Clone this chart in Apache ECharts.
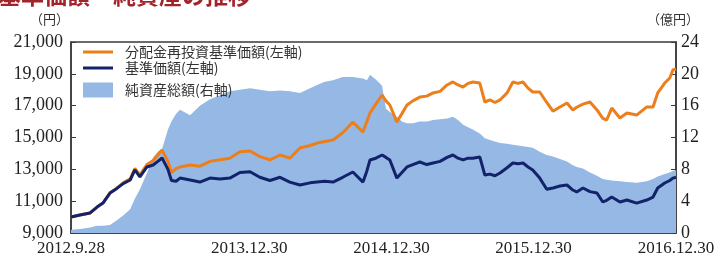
<!DOCTYPE html>
<html><head><meta charset="utf-8">
<script src="https://cdn.jsdelivr.net/npm/echarts@6/dist/echarts.min.js"></script>
<style>html,body{margin:0;padding:0;background:#fff}#c{width:723px;height:269px}</style>
</head><body><div id="c"></div>
<script>
// ---- data ----
const dates = [
 '2012-09-28','2012-10-21','2012-11-16','2012-12-04','2012-12-19','2013-01-06','2013-01-24','2013-02-09','2013-02-27','2013-03-11',
 '2013-03-24','2013-04-11','2013-04-27','2013-05-09','2013-05-20','2013-06-04','2013-06-13','2013-06-25','2013-07-05','2013-07-31',
 '2013-08-25','2013-09-20','2013-10-16','2013-11-10','2013-12-06','2014-01-01','2014-01-26','2014-02-21','2014-03-19','2014-04-13',
 '2014-05-09','2014-06-04','2014-06-22','2014-07-12','2014-08-02','2014-08-27','2014-09-22','2014-10-18','2014-10-28','2014-11-05',
 '2014-11-20','2014-12-06','2014-12-16','2014-12-26','2015-01-13','2015-01-26','2015-02-08','2015-02-23','2015-03-13','2015-03-31',
 '2015-04-16','2015-05-04','2015-05-22','2015-06-06','2015-06-19','2015-07-02','2015-07-15','2015-07-27','2015-08-14','2015-08-27',
 '2015-09-09','2015-09-22','2015-10-05','2015-10-23','2015-11-07','2015-11-20','2015-12-03','2015-12-16','2015-12-28','2016-01-15',
 '2016-02-02','2016-02-18','2016-03-07','2016-03-25','2016-04-09','2016-04-19','2016-05-05','2016-05-23','2016-06-10','2016-06-25',
 '2016-07-05','2016-07-18','2016-08-08','2016-08-26','2016-09-20','2016-10-16','2016-11-01','2016-11-13','2016-12-01','2016-12-14',
 '2016-12-22','2016-12-30'
];
const reinvestNav = [
 10000,10130,10260,10630,10880,11510,11830,12150,12400,13050,
 12650,13300,13550,13900,14210,13500,12800,13050,13150,13270,
 13200,13500,13600,13700,14100,14150,13800,13600,13900,13700,
 14340,14500,14650,14750,14840,15300,15970,15340,16000,16540,
 17100,17670,17300,17040,15970,16500,17040,17300,17540,17600,
 17800,17900,18300,18490,18300,18170,18400,18490,18420,17230,
 17360,17200,17360,17800,18490,18400,18490,18100,17860,17860,
 17200,16650,16920,17170,16730,16900,17100,17230,16730,16200,
 16100,16850,16230,16540,16410,16920,16920,17800,18420,18740,
 19240,19300
];
const nav = [
 10000,10130,10260,10630,10880,11510,11800,12100,12330,12960,
 12520,13150,13270,13500,13710,13000,12300,12250,12450,12330,
 12200,12450,12400,12450,12800,12850,12500,12300,12500,12200,
 12015,12150,12200,12250,12200,12500,12830,12200,12900,13590,
 13700,13900,13750,13590,12450,12800,13150,13300,13460,13300,
 13400,13500,13750,13900,13700,13590,13700,13700,13780,12640,
 12700,12600,12770,13100,13400,13350,13400,13150,12960,12450,
 11750,11830,11950,12015,11700,11580,11830,11600,11510,10950,
 11050,11260,10950,11070,10880,11070,11260,11830,12140,12300,
 12450,12500
];
const netAssets = [
 0.4,0.5,0.7,0.9,0.9,1.0,1.6,2.2,3.0,4.3,
 5.5,7.5,9.5,10.2,10.6,13.0,14.0,15.0,15.5,14.8,
 16.0,16.8,17.3,17.8,18.0,18.2,18.0,17.8,17.9,17.8,
 17.6,18.2,18.6,19.0,19.2,19.6,19.6,19.4,19.2,19.9,
 19.3,18.5,15.6,15.2,14.6,14.0,13.8,13.8,14.0,14.0,
 14.2,14.3,14.4,14.6,14.2,13.6,13.3,13.0,12.5,11.9,
 11.7,11.5,11.3,11.2,11.1,11.0,10.9,10.8,10.7,10.2,
 9.8,9.6,9.3,9.0,8.5,8.3,8.1,7.6,7.2,6.8,
 6.7,6.6,6.5,6.4,6.3,6.5,6.8,7.1,7.4,7.6,
 7.8,7.9
];
const xTickDates = ['2012-09-28','2013-12-30','2014-12-30','2015-12-30','2016-12-30'];
const seriesNames = ['分配金再投資基準価額(左軸)','基準価額(左軸)','純資産総額(右軸)'];
const titleText = '基準価額・純資産の推移';
const leftUnit = '（円）';
const rightUnit = '（億円）';

// ---- chart ----
function ts(s){const p=s.split('-').map(Number);return Date.UTC(p[0],p[1]-1,p[2]);}
const pair = arr => dates.map((d,i)=>[ts(d),arr[i]]);
const serif = 'Liberation Serif';
const cjk = 'Noto Sans CJK JP';
const frame = '#3a3a3a';
const xTicks = xTickDates.map(ts);
const legendText = {fontFamily:cjk,fontSize:14,color:'#333',lineHeight:16,padding:[0,0,0,7]};

const chart = echarts.init(document.getElementById('c'), null, {renderer:'canvas'});
chart.setOption({
  animation:false,
  backgroundColor:'#ffffff',
  grid:{left:71,right:47,top:42,bottom:36,show:true,borderColor:frame,borderWidth:1.5,backgroundColor:'transparent'},
  legend:[
    {orient:'vertical',left:83,top:44,padding:0,itemWidth:30,itemHeight:3,itemGap:0,icon:'rect',
     textStyle:legendText,data:[seriesNames[0],seriesNames[1]]},
    {orient:'vertical',left:83,top:82,padding:0,itemWidth:30,itemHeight:15,itemGap:0,icon:'rect',
     textStyle:legendText,data:[seriesNames[2]]}
  ],
  graphic:[
    {type:'text',left:-2,top:-16,style:{text:titleText,fontFamily:cjk,fontWeight:'bold',fontSize:23,fill:'#a3232a'}},
    {type:'text',left:30,top:13,style:{text:leftUnit,fontFamily:cjk,fontSize:13,fill:'#333'}},
    {type:'text',left:647,top:13,style:{text:rightUnit,fontFamily:cjk,fontSize:13,fill:'#333'}}
  ],
  xAxis:{
    type:'value',min:xTicks[0],max:xTicks[xTicks.length-1],
    axisLine:{lineStyle:{color:frame,width:1.5}},
    axisTick:{show:true,inside:true,length:5,customValues:xTicks,lineStyle:{color:frame}},
    splitLine:{show:false},
    axisLabel:{customValues:xTicks,showMinLabel:true,showMaxLabel:true,
      fontFamily:serif,fontSize:17,color:'#222',margin:7,
      formatter:v=>{const d=new Date(v);return d.getUTCFullYear()+'.'+(d.getUTCMonth()+1)+'.'+d.getUTCDate();}}
  },
  yAxis:[
    {type:'value',min:9000,max:21000,interval:2000,
     axisLine:{show:true,lineStyle:{color:frame,width:1.5}},
     axisTick:{show:true,inside:true,length:5,lineStyle:{color:frame}},
     splitLine:{show:false},
     axisLabel:{fontFamily:serif,fontSize:18,color:'#222',margin:8,
       formatter:v=>v.toLocaleString('en-US')}},
    {type:'value',min:0,max:24,interval:4,position:'right',
     axisLine:{show:true,lineStyle:{color:frame,width:1.5}},
     axisTick:{show:true,inside:true,length:5,lineStyle:{color:frame}},
     splitLine:{show:false},
     axisLabel:{fontFamily:serif,fontSize:18,color:'#222',margin:5}}
  ],
  series:[
    {name:seriesNames[2],type:'line',yAxisIndex:1,data:pair(netAssets),symbol:'none',
     lineStyle:{width:0},itemStyle:{color:'#95b9e4'},areaStyle:{color:'#95b9e4',opacity:1},z:1},
    {name:seriesNames[0],type:'line',yAxisIndex:0,data:pair(reinvestNav),symbol:'none',
     lineStyle:{width:3,color:'#ec7f1c'},itemStyle:{color:'#ec7f1c'},z:3},
    {name:seriesNames[1],type:'line',yAxisIndex:0,data:pair(nav),symbol:'none',
     lineStyle:{width:3,color:'#13236b'},itemStyle:{color:'#13236b'},z:4}
  ]
});
</script></body></html>
